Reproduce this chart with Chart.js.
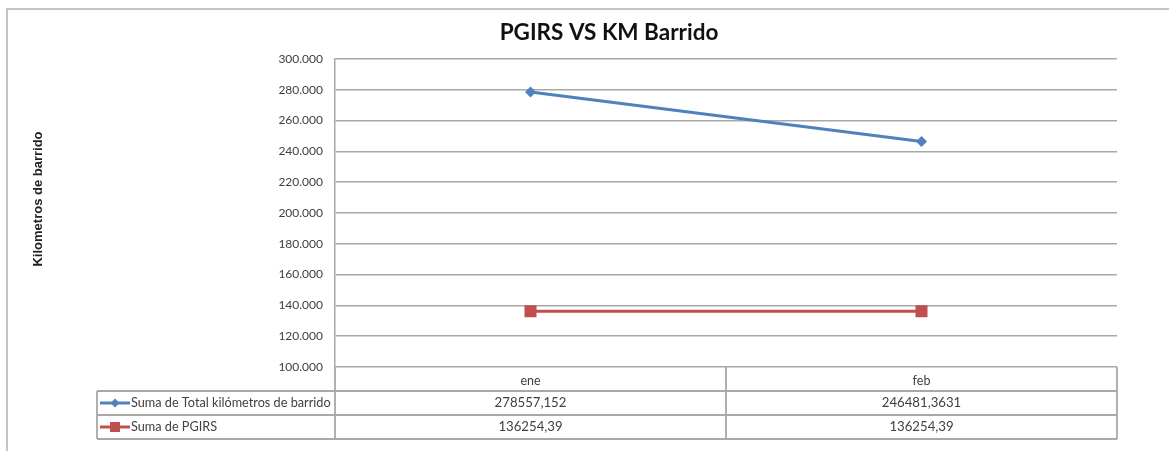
<!DOCTYPE html>
<html>
<head>
<meta charset="utf-8">
<script src="https://cdn.jsdelivr.net/npm/chart.js@4.4.1/dist/chart.umd.min.js"></script>
<style>
    body { margin: 0; background: #fff; }
    #wrap { width: 1169px; height: 451px; }
</style>
</head>
<body>
<div id="wrap"><canvas id="chart" width="1169" height="451"></canvas></div>
<script>
// data
const months = ['ene', 'feb'];
const kmBarrido = [278557.152, 246481.3631];
const pgirs = [136254.39, 136254.39];
const seriesNames = ['Suma de Total kilómetros de barrido', 'Suma de PGIRS'];
const chartTitle = 'PGIRS VS KM Barrido';
const yTitle = 'Kilometros de barrido';
const yMin = 100000;
const yMax = 300000;
const yStep = 20000;

const blue = '#4f81bd';
const red = '#c0504d';
const lineGray = '#a8a8a8';
const textGray = '#404040';

// 300000 -> "300.000"
function thousands(v) {
    return String(Math.round(v)).replace(/\B(?=(\d{3})+(?!\d))/g, '.');
}

// 278557.152 -> "278557,152"
function decimalComma(v) {
    return String(v).replace('.', ',');
}

function drawMarker(ctx, style, x, y, r, color) {
    ctx.fillStyle = color;
    ctx.beginPath();
    if (style == 'rectRot') {
        ctx.moveTo(x, y - r);
        ctx.lineTo(x + r, y);
        ctx.lineTo(x, y + r);
        ctx.lineTo(x - r, y);
        ctx.closePath();
    } else {
        ctx.rect(x - r, y - r, 2 * r, 2 * r);
    }
    ctx.fill();
}

// Excel style frame, titles and the data table under the plot
const excelLook = {
    id: 'excelLook',
    beforeDraw(chart) {
        let ctx = chart.ctx;
        ctx.save();
        ctx.strokeStyle = '#c4c4c4';
        ctx.lineWidth = 2;
        ctx.beginPath();
        ctx.moveTo(7, chart.height);
        ctx.lineTo(7, 9);
        ctx.lineTo(chart.width, 9);
        ctx.stroke();
        ctx.restore();
    },
    afterDraw(chart) {
        let ctx = chart.ctx;
        let area = chart.chartArea;
        let xs = chart.scales.x;
        let rowH = 24;
        let tableLeft = 97;
        let r0 = area.bottom;
        let r1 = r0 + rowH;
        let r2 = r1 + rowH;
        let r3 = r2 + rowH;
        let divider = (xs.getPixelForValue(0) + xs.getPixelForValue(1)) / 2;

        ctx.save();

        // title
        ctx.fillStyle = '#111';
        ctx.font = 'bold 22.5px Lato';
        ctx.textAlign = 'center';
        ctx.textBaseline = 'middle';
        ctx.fillText(chartTitle, 609, 33);

        // y axis title
        ctx.save();
        ctx.translate(38, 199);
        ctx.rotate(-Math.PI / 2);
        ctx.font = 'bold 13px "Liberation Sans"';
        ctx.fillStyle = '#222';
        ctx.fillText(yTitle, 0, 0);
        ctx.restore();

        // table grid
        ctx.strokeStyle = lineGray;
        ctx.lineWidth = 1.8;
        ctx.beginPath();
        [r1, r2, r3].forEach(y => {
            ctx.moveTo(tableLeft, y);
            ctx.lineTo(area.right, y);
        });
        ctx.moveTo(tableLeft, r1);
        ctx.lineTo(tableLeft, r3);
        [area.left, divider, area.right].forEach(x => {
            ctx.moveTo(x, r0);
            ctx.lineTo(x, r3);
        });
        ctx.stroke();

        // rows: legend key + values
        let rows = [r1, r2];
        chart.data.datasets.forEach((ds, i) => {
            let cy = rows[i] + rowH / 2;
            ctx.strokeStyle = ds.borderColor;
            ctx.lineWidth = 3;
            ctx.beginPath();
            ctx.moveTo(100, cy);
            ctx.lineTo(130, cy);
            ctx.stroke();
            drawMarker(ctx, ds.pointStyle, 115, cy, ds.pointStyle == 'rect' ? 5 : 4.5, ds.borderColor);

            ctx.fillStyle = textGray;
            ctx.font = '12.7px Lato';
            ctx.textAlign = 'left';
            ctx.fillText(seriesNames[i], 131, cy);
            ctx.font = '13.2px Lato';
            ctx.textAlign = 'center';
            ds.data.forEach((v, j) => {
                ctx.fillText(decimalComma(v), xs.getPixelForValue(j), cy);
            });
        });

        ctx.restore();
    }
};

new Chart(document.getElementById('chart'), {
    type: 'line',
    data: {
        labels: months,
        datasets: [
            {
                label: seriesNames[0],
                data: kmBarrido,
                borderColor: blue,
                backgroundColor: blue,
                borderWidth: 3,
                pointStyle: 'rectRot',
                pointRadius: 5.5,
                pointBorderWidth: 0,
                fill: false
            },
            {
                label: seriesNames[1],
                data: pgirs,
                borderColor: red,
                backgroundColor: red,
                borderWidth: 3,
                pointStyle: 'rect',
                pointRadius: 8.5,
                pointBorderWidth: 0,
                fill: false
            }
        ]
    },
    options: {
        responsive: false,
        animation: false,
        layout: { padding: { left: 0, right: 52, top: 59, bottom: 60 } },
        plugins: {
            legend: { display: false },
            title: { display: false },
            tooltip: { enabled: false }
        },
        scales: {
            x: {
                offset: true,
                grid: { display: false, drawTicks: false },
                border: { display: false },
                ticks: { color: textGray, font: { family: 'Lato', size: 12.5 }, padding: 6 },
                afterFit(scale) { scale.height = 24; }
            },
            y: {
                min: yMin,
                max: yMax,
                grid: { color: lineGray, lineWidth: 1.5, drawTicks: false },
                border: { color: lineGray, width: 1.5 },
                ticks: {
                    stepSize: yStep,
                    padding: 12,
                    color: textGray,
                    font: { family: 'Lato', size: 12 },
                    callback: v => thousands(v)
                },
                afterFit(scale) { scale.width = 335; }
            }
        }
    },
    plugins: [excelLook]
});
</script>
</body>
</html>
